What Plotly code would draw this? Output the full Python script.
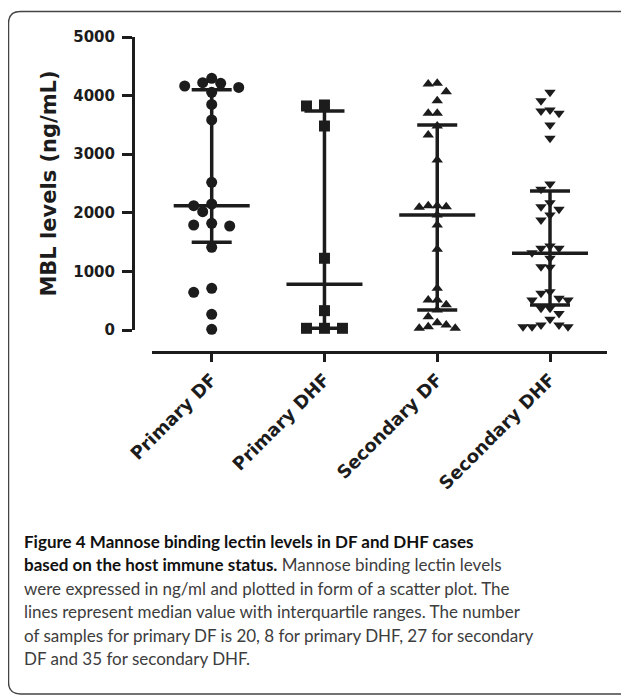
import plotly.graph_objects as go

# ---------------- data ----------------
categories = ["Primary DF", "Primary DHF", "Secondary DF", "Secondary DHF"]
primary_df = [4295, 4220, 4210, 4164, 4140, 4056, 3850, 3584, 2520, 2150,
              2121, 2020, 1820, 1792, 1775, 1411, 711, 643, 268, 12]
primary_dhf = [3840, 3823, 3481, 1224, 330, 29, 29, 29]
secondary_df = [4210, 4198, 4067, 3913, 3697, 3697, 3481, 3328, 2901, 2121,
                2121, 2104, 2094, 1962, 1792, 1377, 711, 512, 512, 430,
                341, 227, 125, 85, 56, 29, 29]
secondary_dhf = [4056, 3913, 3754, 3737, 3697, 3498, 3271, 2491, 2400, 2172,
                 2104, 2059, 1962, 1877, 1433, 1394, 1394, 1319, 1224, 1080,
                 1070, 654, 626, 541, 512, 512, 370, 370, 280, 182,
                 85, 85, 56, 56, 56]
medians = [2121, 780, 1962, 1309]
q1 = [1496, 30, 341, 427]
q3 = [4100, 3737, 3498, 2372]
y_ticks = [0, 1000, 2000, 3000, 4000, 5000]
caption_lines = [
    ("Figure 4 Mannose binding lectin levels in DF and DHF cases", ""),
    ("based on the host immune status.", " Mannose binding lectin levels"),
    ("", "were expressed in ng/ml and plotted in form of a scatter plot. The"),
    ("", "lines represent median value with interquartile ranges. The number"),
    ("", "of samples for primary DF is 20, 8 for primary DHF, 27 for secondary"),
    ("", "DF and 35 for secondary DHF."),
]

groups = [primary_df, primary_dhf, secondary_df, secondary_dhf]
symbols = ["circle", "square", "triangle-up", "triangle-down"]

# ---------------- geometry ----------------
OFF = 8                      # page body margin of the html page
W, H = 629 - OFF, 696 - OFF
AX_X = 133 - OFF             # y-axis line (px)
X0PX = 152 - OFF             # x-axis start
X1PX = 607 - OFF             # x-axis end
XAX_Y = 352 - OFF            # x-axis line
Y0PX = 330 - OFF             # value 0
Y5PX = 37 - OFF              # value 5000
ML, MR, MT, MB = AX_X, W - X1PX, Y5PX, H - XAX_Y
PW = W - ML - MR
PH = H - MT - MB
x_dom = [(X0PX - ML) / PW, 1.0]
y_dom = [(XAX_Y - Y0PX) / PH, 1.0]
YMAX = 5000
px_per_y = (Y0PX - Y5PX) / YMAX
cat_step_px = 112.77
x_lo = (X0PX - (211.7 - OFF)) / cat_step_px
x_hi = x_lo + (X1PX - X0PX) / cat_step_px


def swarm(vals, step=9.0, dist=10.0):
    """Beeswarm-style horizontal offsets (px) for points of one column."""
    order = sorted(range(len(vals)), key=lambda k: -vals[k])
    placed = []
    offs = [0.0] * len(vals)
    cands = [0.0]
    for k in range(1, 12):
        cands += [-k * step, k * step]
    for idx in order:
        yp = vals[idx] * px_per_y
        for c in cands:
            if all((c - ox) ** 2 + (yp - oy) ** 2 >= dist ** 2 - 1e-6 for ox, oy in placed):
                offs[idx] = c
                placed.append((c, yp))
                break
    return offs


fig = go.Figure()
INK = "#1c1c1c"
marker_sizes = {"circle": 11, "square": 11, "triangle-up": 10, "triangle-down": 10}
swarm_dist = {"circle": 10.0, "square": 10.0, "triangle-up": 9.0, "triangle-down": 9.0}

for i, (vals, sym) in enumerate(zip(groups, symbols)):
    offs = swarm(vals, dist=swarm_dist[sym])
    xs = [i + o / cat_step_px for o in offs]
    fig.add_trace(go.Scatter(
        x=xs, y=vals, mode="markers", name=categories[i],
        marker=dict(symbol=sym, size=marker_sizes[sym], color=INK, line=dict(width=0)),
        cliponaxis=False, showlegend=False, hoverinfo="y"))

# median + interquartile range lines
med_half = 38 / cat_step_px
cap_half = 20 / cat_step_px
lx, ly = [], []
for i in range(len(categories)):
    lx += [i, i, None]
    ly += [q1[i], q3[i], None]
    lx += [i - med_half, i + med_half, None]
    ly += [medians[i], medians[i], None]
    for q in (q1[i], q3[i]):
        lx += [i - cap_half, i + cap_half, None]
        ly += [q, q, None]
fig.add_trace(go.Scatter(x=lx, y=ly, mode="lines",
                         line=dict(color=INK, width=3.5),
                         cliponaxis=False, showlegend=False, hoverinfo="skip"))

fig.update_layout(
    width=W, height=H,
    margin=dict(l=ML, r=MR, t=MT, b=MB, autoexpand=False),
    paper_bgcolor="white", plot_bgcolor="white",
    xaxis=dict(domain=x_dom, range=[x_lo, x_hi], anchor="free", position=0,
               tickmode="array", tickvals=list(range(len(categories))),
               ticktext=categories, tickangle=-45,
               tickfont=dict(family="DejaVu Sans", size=18, color=INK, weight="bold"),
               showline=True, linecolor=INK, linewidth=3,
               ticks="outside", ticklen=8, tickwidth=3, tickcolor=INK,
               showgrid=False, zeroline=False),
    yaxis=dict(domain=y_dom, range=[0, YMAX], anchor="free", position=0,
               tickmode="array", tickvals=y_ticks,
               ticktext=[str(t) for t in y_ticks],
               tickfont=dict(family="DejaVu Sans", size=15, color=INK, weight="bold"),
               ticklabelstandoff=4,
               showline=True, linecolor=INK, linewidth=3,
               ticks="outside", ticklen=10, tickwidth=3, tickcolor=INK,
               showgrid=False, zeroline=False,
               title=dict(text="MBL levels (ng/mL)", standoff=9,
                          font=dict(family="DejaVu Sans", size=21, color=INK,
                                    weight="bold"))),
)


def px2paper(px, py):
    """Reference-picture pixel -> paper coordinates."""
    fx, fy = px - OFF, py - OFF
    return (fx - ML) / PW, (H - MB - fy) / PH


# rounded frame around the whole figure (right edge runs off the page)
L, T, R, B, r = 8.5, 11.5, 634.0, 694.0, 12
pts = [("M", L, T + r), ("Q", L, T, L + r, T), ("L", R - r, T), ("Q", R, T, R, T + r),
       ("L", R, B - r), ("Q", R, B, R - r, B), ("L", L + r, B), ("Q", L, B, L, B - r)]
path = ""
for p in pts:
    coords = p[1:]
    s = []
    for j in range(0, len(coords), 2):
        a, b = px2paper(coords[j], coords[j + 1])
        s.append(f"{a:.5f},{b:.5f}")
    path += p[0] + " ".join(s) + " "
path += "Z"
fig.add_shape(type="path", path=path, xref="paper", yref="paper",
              line=dict(color="#444444", width=1.5), fillcolor="rgba(0,0,0,0)")

for k, (bold, reg) in enumerate(caption_lines):
    txt = ""
    if bold:
        txt += f"<b>{bold}</b>"
    if reg:
        txt += f"<span style='color:#3d3d3d'>{reg}</span>"
    cx, cy = px2paper(22, 547 + 23.4 * k - 5.5)
    fig.add_annotation(text=txt, xref="paper", yref="paper", x=cx, y=cy,
                       xanchor="left", yanchor="middle", align="left", showarrow=False,
                       font=dict(family="Lato", size=17, color="#111111"))

fig.write_html("out.html")
